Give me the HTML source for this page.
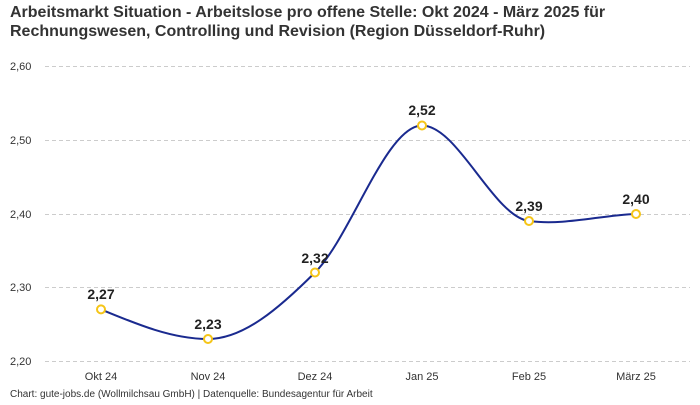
<!DOCTYPE html>
<html><head><meta charset="utf-8"><style>
body{margin:0;background:#fff;width:700px;height:400px;overflow:hidden;font-family:"Liberation Sans",sans-serif}
</style></head><body>
<svg width="700" height="400" xmlns="http://www.w3.org/2000/svg" font-family="Liberation Sans, sans-serif">
<text x="10" y="17" font-size="16" font-weight="bold" fill="#333">Arbeitsmarkt Situation - Arbeitslose pro offene Stelle: Okt 2024 - März 2025 für</text>
<text x="10" y="36" font-size="16" font-weight="bold" fill="#333">Rechnungswesen, Controlling und Revision (Region Düsseldorf-Ruhr)</text>
<g stroke="#ccc" stroke-dasharray="4,3" stroke-width="1">
<line x1="45" x2="690" y1="66.5" y2="66.5"/><line x1="45" x2="690" y1="140.5" y2="140.5"/>
<line x1="45" x2="690" y1="214.5" y2="214.5"/><line x1="45" x2="690" y1="287.5" y2="287.5"/>
<line x1="45" x2="690" y1="361.5" y2="361.5"/></g>
<g font-size="11" fill="#333">
<text x="10" y="70">2,60</text><text x="10" y="144">2,50</text><text x="10" y="218">2,40</text>
<text x="10" y="291">2,30</text><text x="10" y="365">2,20</text></g>
<g font-size="11" fill="#333" text-anchor="middle">
<text x="101" y="380">Okt 24</text><text x="208" y="380">Nov 24</text><text x="315" y="380">Dez 24</text>
<text x="422" y="380">Jan 25</text><text x="529" y="380">Feb 25</text><text x="636" y="380">März 25</text></g>
<path d="M101,309.4 C136.7,324.2 172.3,339 208,339 C243.7,339 279.3,308.1 315,272.5 C350.7,236.9 386.3,125.5 422,125.5 C457.7,125.5 493.3,216.3 529,221 C564.7,225.7 600.3,215.2 636,214" fill="none" stroke="#1a2a8f" stroke-width="2"/>
<g fill="#fff" stroke="#f5c518" stroke-width="2">
<circle cx="101" cy="309.4" r="4"/><circle cx="208" cy="339" r="4"/><circle cx="315" cy="272.5" r="4"/>
<circle cx="422" cy="125.5" r="4"/><circle cx="529" cy="221" r="4"/><circle cx="636" cy="214" r="4"/></g>
<g font-size="14" font-weight="bold" fill="#222" text-anchor="middle">
<text x="101" y="299">2,27</text><text x="208" y="329">2,23</text><text x="315" y="263">2,32</text>
<text x="422" y="115">2,52</text><text x="529" y="211">2,39</text><text x="636" y="204">2,40</text></g>
<text x="10" y="397" font-size="10" fill="#333">Chart: gute-jobs.de (Wollmilchsau GmbH) | Datenquelle: Bundesagentur für Arbeit</text>
</svg>
</body></html>
